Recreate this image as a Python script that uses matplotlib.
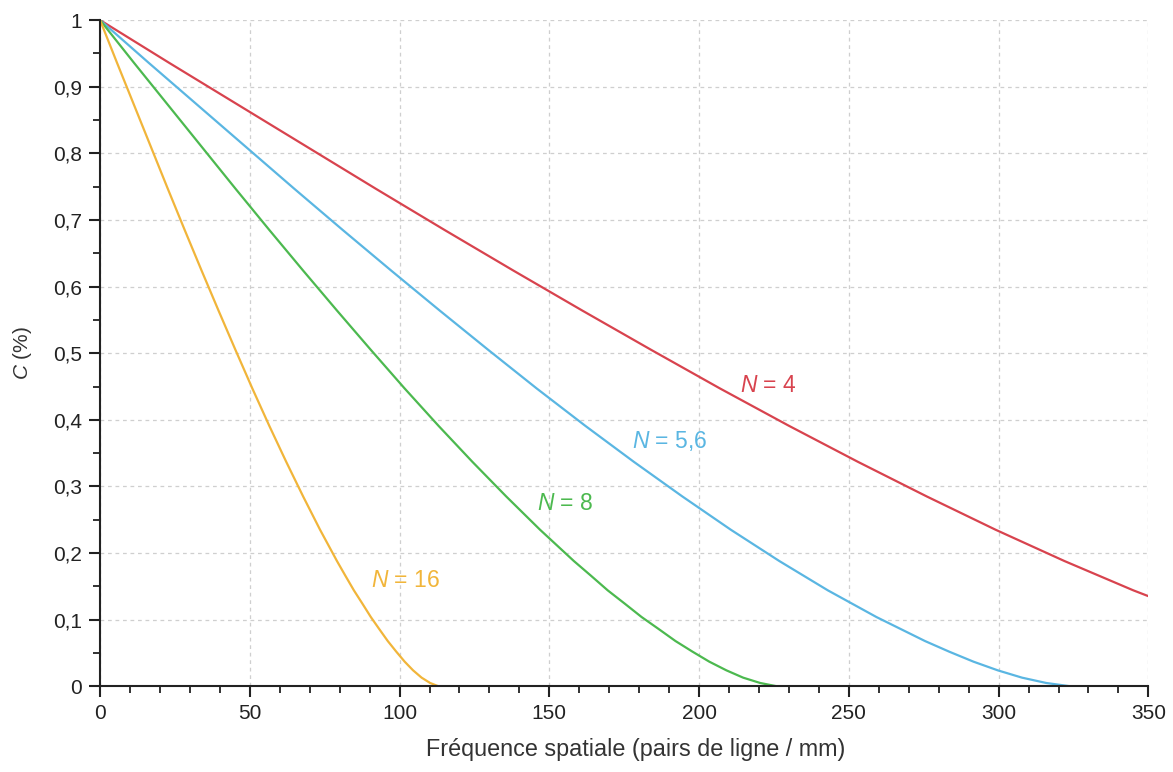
import matplotlib
matplotlib.use("Agg")
import matplotlib.pyplot as plt
from matplotlib.ticker import MultipleLocator, FuncFormatter

plt.rcParams['font.family'] = ['Liberation Sans', 'DejaVu Sans']
plt.rcParams['mathtext.fontset'] = 'custom'
plt.rcParams['mathtext.it'] = 'Liberation Sans:italic'
plt.rcParams['mathtext.rm'] = 'Liberation Sans'

# Contrast values (shared relative sampling)
c_vals = [1.0, 0.936, 0.873, 0.810, 0.747, 0.685, 0.624, 0.564, 0.505, 0.447,
          0.391, 0.337, 0.285, 0.235, 0.188, 0.166, 0.144, 0.124, 0.104, 0.086,
          0.068, 0.052, 0.037, 0.024, 0.013, 0.005, 0.0]

x_n16 = [0, 5.65, 11.3, 16.95, 22.6, 28.25, 33.9, 39.55, 45.2, 50.85, 56.5,
         62.15, 67.8, 73.45, 79.1, 81.9, 84.75, 87.6, 90.4, 93.2, 96.05, 98.9,
         101.7, 104.5, 107.35, 110.2, 113]
x_n8 = [0, 11.3, 22.6, 33.9, 45.2, 56.5, 67.8, 79.1, 90.4, 101.7, 113, 124.3,
        135.6, 146.9, 158.2, 163.9, 169.5, 175.2, 180.8, 186.5, 192.1, 197.8,
        203.4, 209.1, 214.7, 220.4, 226]
x_n56 = [0, 16.2, 32.4, 48.6, 64.8, 81, 97.2, 113.4, 129.6, 145.8, 162, 178.2,
         194.4, 210.6, 226.8, 234.9, 243, 251.1, 259.2, 267.3, 275.4, 283.5,
         291.6, 299.7, 307.8, 315.9, 324]
x_n4 = [0, 23, 46, 69, 92, 115, 138, 161, 184, 207, 230, 253, 276, 299, 322,
        333.5, 345, 356.5]
c_n4 = c_vals[:18]

labels = ["4", "5,6", "8", "16"]
colors = ["#d8434e", "#5ab6e2", "#4cb94f", "#f1b53a"]
label_pos = [(213.5, 0.452), (177.5, 0.368), (146, 0.275), (90.5, 0.159)]

fig = plt.figure(figsize=(11.73, 7.72), dpi=100)
ax = fig.add_axes([0.0853, 0.111, 0.8937, 0.863])

series = [(x_n4, c_n4), (x_n56, c_vals), (x_n8, c_vals), (x_n16, c_vals)]
for (xs, ys), col in zip(series, colors):
    ax.plot(xs, ys, color=col, lw=1.6, solid_joinstyle='round')

for lab, col, (tx, ty) in zip(labels, colors, label_pos):
    ax.text(tx, ty, r"$N$" + " = " + lab, color=col, fontsize=16.5,
            va='center', ha='left')

ax.set_xlim(0, 350)
ax.set_ylim(0, 1)
ax.xaxis.set_major_locator(MultipleLocator(50))
ax.xaxis.set_minor_locator(MultipleLocator(10))
ax.yaxis.set_major_locator(MultipleLocator(0.1))
ax.yaxis.set_minor_locator(MultipleLocator(0.05))

def yfmt(v, pos):
    s = f"{v:.1f}"
    if s.endswith(".0"):
        s = s[:-2]
    return s.replace(".", ",")

ax.yaxis.set_major_formatter(FuncFormatter(yfmt))
ax.xaxis.set_major_formatter(FuncFormatter(lambda v, p: f"{int(round(v))}"))

ax.grid(True, which='major', color='#cfcfcf', linestyle=(0, (3, 3)), lw=0.9)
ax.set_axisbelow(True)
for s in ['top', 'right']:
    ax.spines[s].set_visible(False)
for s in ['left', 'bottom']:
    ax.spines[s].set_linewidth(1.5)
    ax.spines[s].set_color('#222222')

ax.tick_params(which='major', direction='out', length=8, width=1.5,
               labelsize=15, colors='#222222', pad=5)
ax.tick_params(which='minor', direction='out', length=5, width=1.3,
               colors='#222222')

fig.text(0.542, 0.029, "Fréquence spatiale (pairs de ligne / mm)", fontsize=16.8,
         color='#333333', ha='center', va='center')
ax.set_ylabel(r"$C$" + " (%)", fontsize=15, color='#333333', labelpad=14)

fig.savefig("out.png", dpi=100, facecolor='white')
